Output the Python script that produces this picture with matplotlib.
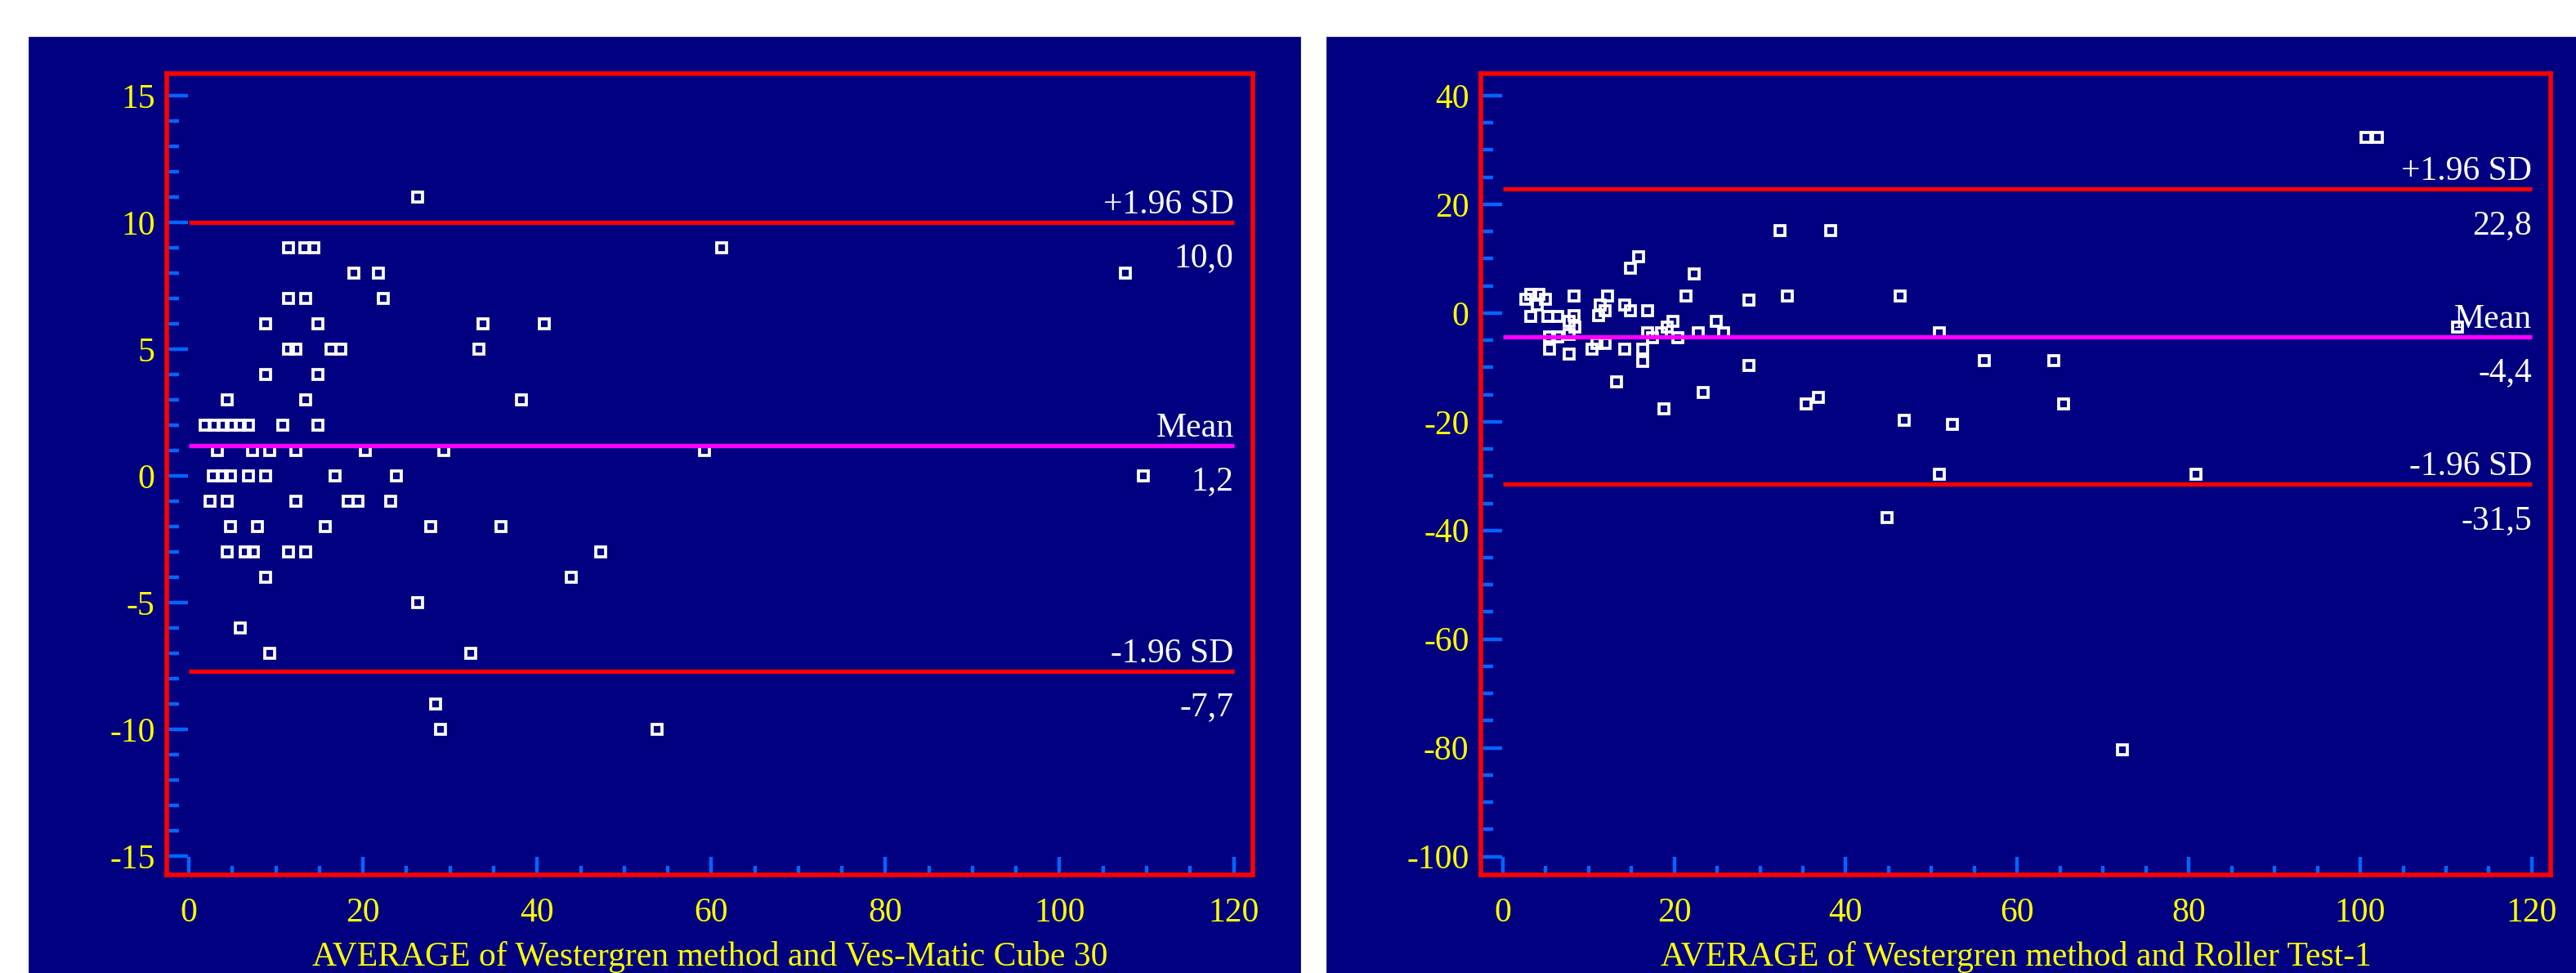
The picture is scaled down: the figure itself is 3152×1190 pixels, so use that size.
import matplotlib
matplotlib.use('Agg')
import matplotlib.pyplot as plt
from matplotlib.ticker import MultipleLocator
from matplotlib.patches import Rectangle

plt.rcParams['font.family'] = ['Liberation Serif', 'DejaVu Serif']
plt.rcParams['axes.unicode_minus'] = False

# left panel: Westergren vs Ves-Matic Cube 30
vm_avg = [26.3,
          11.4, 13.35, 14.3, 61.2,
          18.9, 21.8, 107.6,
          11.4, 13.4, 22.3,
          8.8, 14.8, 33.8, 40.8,
          11.4, 12.3, 16.3, 17.4, 33.3,
          8.8, 14.8,
          4.4, 13.4, 38.2,
          1.9, 2.9, 3.9, 4.9, 5.9, 6.8, 10.8, 14.8,
          3.3, 7.3, 9.3, 12.3, 20.3, 29.3, 59.2,
          2.8, 3.8, 4.8, 6.8, 8.8, 16.8, 23.8, 109.6,
          2.4, 4.4, 12.3, 18.3, 19.4, 23.2,
          4.8, 7.9, 15.7, 27.8, 35.8,
          4.4, 6.5, 7.4, 11.4, 13.4, 47.3,
          8.8, 43.9,
          26.3,
          5.9,
          9.3, 32.4,
          28.3,
          28.9, 53.8]
vm_diff = [11,
           9, 9, 9, 9,
           8, 8, 8,
           7, 7, 7,
           6, 6, 6, 6,
           5, 5, 5, 5, 5,
           4, 4,
           3, 3, 3,
           2, 2, 2, 2, 2, 2, 2, 2,
           1, 1, 1, 1, 1, 1, 1,
           0, 0, 0, 0, 0, 0, 0, 0,
           -1, -1, -1, -1, -1, -1,
           -2, -2, -2, -2, -2,
           -3, -3, -3, -3, -3, -3,
           -4, -4,
           -5,
           -6,
           -7, -7,
           -9,
           -10, -10]
vm_mean, vm_upper, vm_lower = 1.2, 10.0, -7.7

# right panel: Westergren vs Roller Test-1
rt_avg = [15.8, 14.9, 22.3, 32.3, 38.2,
          3.3, 4.2, 8.3, 12.2, 21.4, 33.2, 46.3,
          2.7, 5.0, 28.7,
          4.0, 11.4, 14.2,
          11.9, 14.9, 16.9,
          3.3, 5.3, 6.4, 8.3, 11.2,
          7.7, 19.8, 24.9,
          8.4, 19.2, 111.3,
          16.9, 18.5, 22.8, 25.8, 50.9, 7.7,
          5.5, 6.4, 17.5, 20.4,
          11.0, 11.9,
          5.5, 10.4, 14.2, 16.3,
          7.7, 16.3, 56.2, 64.3,
          28.7, 13.3, 23.4, 36.8, 35.4, 65.4, 18.8,
          46.8, 52.4, 50.9, 80.8, 44.8, 72.3,
          100.7, 102.0]
rt_diff = [10.3, 8.2, 7.2, 15.2, 15.2,
           3.4, 3.4, 3.2, 3.2, 3.2, 3.1, 3.1,
           2.5, 2.5, 2.4,
           1.4, 1.4, 1.4,
           0.4, 0.4, 0.4,
           -0.6, -0.6, -0.6, -0.5, -0.5,
           -1.6, -1.6, -1.6,
           -2.6, -2.6, -2.6,
           -3.6, -3.6, -3.6, -3.6, -3.7, -3.9,
           -4.4, -4.4, -4.6, -4.6,
           -5.6, -5.6,
           -6.6, -6.6, -6.6, -6.6,
           -7.6, -8.9, -8.8, -8.8,
           -9.7, -12.6, -14.6, -15.5, -16.7, -16.7, -17.6,
           -19.7, -20.5, -29.7, -29.7, -37.6, -80.4,
           32.3, 32.3]
rt_mean, rt_upper, rt_lower = -4.4, 22.8, -31.5

navy = '#000080'
tick_blue = '#0066FF'
W, H = 3152, 1190

fig = plt.figure(figsize=(W / 200, H / 200), dpi=200, facecolor='white')
# navy panel backgrounds, behind the axes
fig.patches.append(Rectangle((36 / W, 0), (1590 - 36) / W, (H - 46) / H,
                             transform=fig.transFigure, color=navy, zorder=-10))
fig.patches.append(Rectangle((1624 / W, 0), (W - 1624) / W, (H - 46) / H,
                             transform=fig.transFigure, color=navy, zorder=-10))


def panel(rect, avg, diff, mean, upper, lower, ylim, ymaj, ymin, xlabel):
    ax = fig.add_axes(rect)
    ax.set_facecolor(navy)
    ax.set_xlim(-2.55, 122.2)
    ax.set_ylim(*ylim)
    for s in ax.spines.values():
        s.set_color('red')
        s.set_linewidth(2.0)
    ax.plot(avg, diff, 's', ms=4.3, mew=1.35, mec='white', mfc='none', zorder=3)
    ax.hlines([upper, lower], 0, 120, color='red', lw=1.9, zorder=4)
    ax.hlines(mean, 0, 120, color='#FF00FF', lw=1.9, zorder=4)
    for name, val in [('+1.96 SD', upper), ('Mean', mean), ('-1.96 SD', lower)]:
        ax.annotate(name, (120, val), xytext=(0, 4), textcoords='offset points',
                    ha='right', va='baseline', color='white', fontsize=15, zorder=5)
        ax.annotate(f'{val:.1f}'.replace('.', ','), (120, val), xytext=(0, -19.6),
                    textcoords='offset points', ha='right', va='baseline',
                    color='white', fontsize=15, zorder=5)
    ax.xaxis.set_major_locator(MultipleLocator(20))
    ax.xaxis.set_minor_locator(MultipleLocator(5))
    ax.yaxis.set_major_locator(MultipleLocator(ymaj))
    ax.yaxis.set_minor_locator(MultipleLocator(ymin))
    ax.tick_params(axis='y', which='major', direction='in', length=9.5, width=1.6,
                   color=tick_blue, labelcolor='yellow', labelsize=15, pad=5.2)
    ax.tick_params(axis='y', which='minor', direction='in', length=5.5, width=1.6,
                   color=tick_blue)
    ax.tick_params(axis='x', which='major', direction='in', length=8, width=1.6,
                   color=tick_blue, labelcolor='yellow', labelsize=15, pad=10.2)
    ax.tick_params(axis='x', which='minor', direction='in', length=4, width=1.6,
                   color=tick_blue)
    ax.annotate(xlabel, (0.5, 0), xycoords='axes fraction', xytext=(0, -40),
                textcoords='offset points', ha='center', va='baseline',
                color='yellow', fontsize=15, annotation_clip=False)
    return ax


panel([204 / W, (H - 1069.6) / H, 1329 / W, 980 / H], vm_avg, vm_diff,
      vm_mean, vm_upper, vm_lower, (-15.73, 15.88), 5, 1,
      'AVERAGE of Westergren method and Ves-Matic Cube 30')
panel([1812 / W, (H - 1069.6) / H, 1309 / W, 980 / H], rt_avg, rt_diff,
      rt_mean, rt_upper, rt_lower, (-103.3, 44.1), 20, 5,
      'AVERAGE of Westergren method and Roller Test-1')

fig.savefig('out.png', dpi=200, facecolor='white')
